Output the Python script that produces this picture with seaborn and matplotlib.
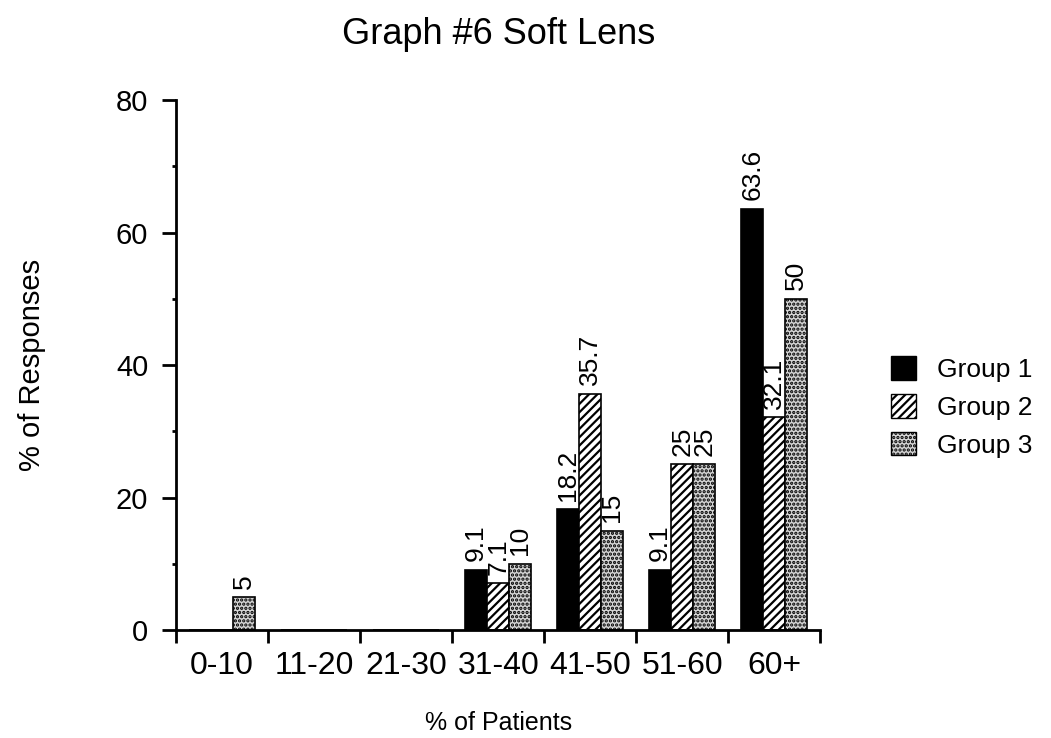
import matplotlib
matplotlib.use("Agg")
import matplotlib.pyplot as plt
import seaborn as sns
import pandas as pd
from matplotlib.patches import Patch
from matplotlib.ticker import MultipleLocator, FixedLocator

categories = ["0-10", "11-20", "21-30", "31-40", "41-50", "51-60", "60+"]
groups = ["Group 1", "Group 2", "Group 3"]
group1 = [0, 0, 0, 9.1, 18.2, 9.1, 63.6]
group2 = [0, 0, 0, 7.1, 35.7, 25, 32.1]
group3 = [5, 0, 0, 10, 15, 25, 50]

df = pd.DataFrame({
    "range": categories * 3,
    "group": [g for g in groups for _ in categories],
    "value": group1 + group2 + group3,
})

sns.set_style("white")
plt.rcParams["font.family"] = ["Liberation Sans", "DejaVu Sans"]
plt.rcParams["hatch.linewidth"] = 1.6
for key in ["text.color", "axes.labelcolor", "xtick.color", "ytick.color"]:
    plt.rcParams[key] = "black"

fig = plt.figure(figsize=(10.51, 7.38), dpi=100)
ax = fig.add_axes([0.1675, 0.1463, 0.613, 0.7182])

styles = {
    "Group 1": dict(facecolor="black", hatch=None),
    "Group 2": dict(facecolor="white", hatch="////"),
    "Group 3": dict(facecolor="#d4d4d4", hatch="...."),
}

sns.barplot(data=df, x="range", y="value", hue="group", order=categories,
            hue_order=groups, palette=["black", "white", "#d4d4d4"],
            saturation=1, width=0.72, edgecolor="black", linewidth=1.2,
            legend=False, ax=ax)

for cont, g in zip(ax.containers, groups):
    for bar in cont:
        bar.set_facecolor(styles[g]["facecolor"])
        bar.set_edgecolor("black")
        if styles[g]["hatch"]:
            bar.set_hatch(styles[g]["hatch"])
    vals = [b.get_height() for b in cont]
    labels = [("%g" % v) if v > 0 else "" for v in vals]
    ax.bar_label(cont, labels=labels, rotation=90, padding=6, fontsize=19)

ax.set_ylim(0, 80)
ax.set_xlim(-0.5, len(categories) - 0.5)
ax.yaxis.set_major_locator(MultipleLocator(20))
ax.yaxis.set_minor_locator(MultipleLocator(10))
ax.xaxis.set_minor_locator(FixedLocator([i - 0.5 for i in range(len(categories) + 1)]))

ax.tick_params(axis="y", which="major", direction="out", length=10, width=2,
               labelsize=21, left=True, pad=10)
ax.tick_params(axis="y", which="minor", direction="out", length=3, width=2, left=True)
ax.tick_params(axis="x", which="major", length=0, labelsize=23, pad=15)
ax.tick_params(axis="x", which="minor", direction="out", length=9.5, width=2, bottom=True)

for side in ["top", "right"]:
    ax.spines[side].set_visible(False)
for side in ["left", "bottom"]:
    ax.spines[side].set_color("black")
    ax.spines[side].set_linewidth(2)

ax.set_title("Graph #6 Soft Lens", fontsize=26, pad=40)
ax.set_ylabel("% of Responses", fontsize=21, labelpad=50)
ax.set_xlabel("% of Patients", fontsize=18, labelpad=22)

handles = [Patch(facecolor=styles[g]["facecolor"], edgecolor="black",
                 hatch=styles[g]["hatch"], label=g) for g in groups]
fig.legend(handles=handles, loc="center left", bbox_to_anchor=(0.825, 0.4485),
           frameon=False, fontsize=19, handlelength=0.95, handleheight=1.0,
           handletextpad=0.8, labelspacing=0.45)

fig.savefig("out.png", dpi=100, facecolor="white")
